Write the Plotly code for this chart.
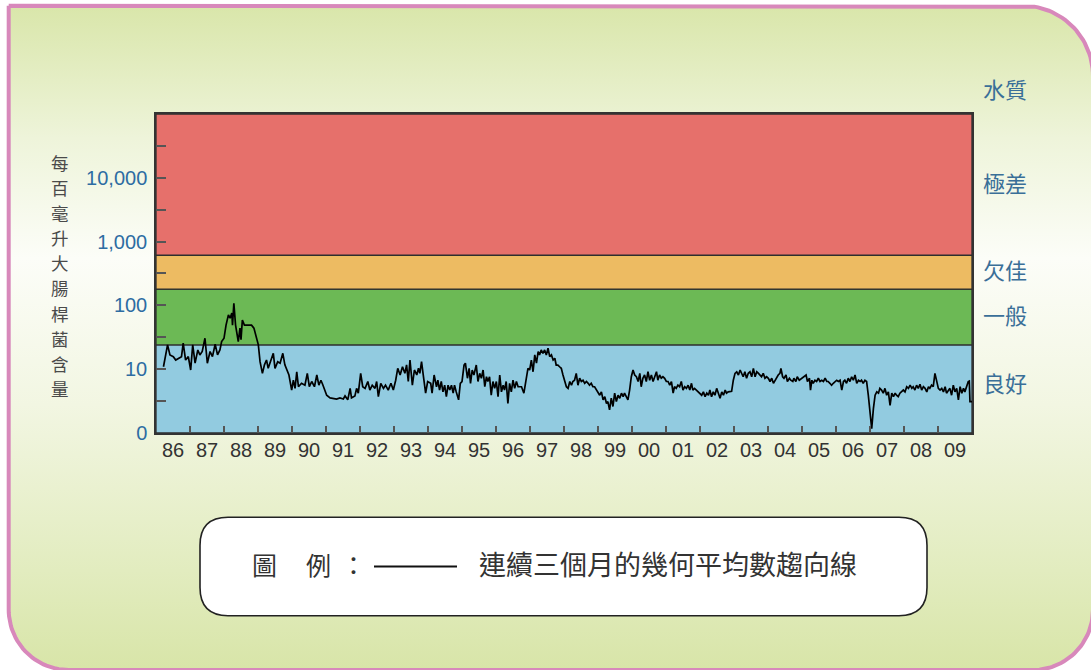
import numpy as np
import plotly.graph_objects as go

# ---------------- data ----------------
years_8693 = [
    1986.22, 1986.26, 1986.34, 1986.41, 1986.51, 1986.58, 1986.66, 1986.75, 1986.80, 1986.87,
    1986.95, 1987.02, 1987.08, 1987.15, 1987.23, 1987.29, 1987.36, 1987.44, 1987.51, 1987.59,
    1987.66, 1987.74, 1987.81, 1987.88, 1987.93, 1988.00, 1988.06, 1988.13, 1988.18, 1988.23,
    1988.25, 1988.29, 1988.34, 1988.42, 1988.47, 1988.50, 1988.54, 1988.60, 1988.72, 1988.81,
    1988.88, 1988.94, 1989.01, 1989.06, 1989.13, 1989.19, 1989.25, 1989.30, 1989.38, 1989.45,
    1989.50, 1989.58, 1989.65, 1989.73, 1989.79, 1989.84, 1989.91, 1989.99, 1990.04, 1990.09,
    1990.14, 1990.19, 1990.28, 1990.38, 1990.45, 1990.51, 1990.58, 1990.66, 1990.73, 1990.79,
    1990.85, 1990.90, 1990.97, 1991.02, 1991.12, 1991.22, 1991.31, 1991.41, 1991.51, 1991.56,
    1991.64, 1991.71, 1991.75, 1991.85, 1991.90, 1991.95, 1992.02, 1992.08, 1992.15, 1992.23,
    1992.29, 1992.36, 1992.44, 1992.49, 1992.54, 1992.61, 1992.69, 1992.75, 1992.83, 1992.91,
    1992.98, 1993.05, 1993.11, 1993.18, 1993.25, 1993.32, 1993.37, 1993.42, 1993.47, 1993.54,
    1993.60, 1993.67, 1993.72, 1993.76, 1993.81, 1993.86, 1993.93, 1993.99,
]
ecoli_8693 = [
    10.9, 14.8, 24, 16.7, 15.7, 13.9, 14.8, 15.7, 25.5, 13.9,
    15.7, 9.7, 24, 12.4, 20, 16.7, 18.9, 30.5, 12.4, 18.9,
    15.7, 24.6, 16.7, 20, 27, 30.5, 49, 71, 63, 76,
    49, 108, 49, 27, 44, 29, 59, 49, 49, 49,
    44, 32.5, 24, 13.1, 8.6, 11.7, 13.9, 10.3, 13.9, 17.7,
    10.3, 13.1, 12.4, 17.7, 11.7, 9.7, 8.1, 4.7, 6.7, 5.0,
    9.1, 5.3, 6.0, 5.6, 8.6, 5.3, 6.4, 5.3, 8.1, 5.6,
    6.7, 5.8, 4.5, 3.9, 3.55, 3.5, 3.4, 3.55, 3.4, 3.8,
    3.3, 5.0, 3.55, 3.8, 5.0, 4.2, 8.6, 5.3, 5.0, 6.4,
    4.7, 5.6, 5.0, 6.4, 3.7, 6.0, 5.0, 5.6, 4.7, 6.0,
    4.7, 6.7, 10.3, 8.1, 10.9, 8.6, 11.7, 6.4, 13.9, 5.6,
    9.7, 8.1, 10.3, 8.6, 13.1, 8.1, 4.2, 6.4,
]

years_9401 = [
    1994.08, 1994.12, 1994.18, 1994.25, 1994.29, 1994.34, 1994.39, 1994.44, 1994.49, 1994.54,
    1994.59, 1994.64, 1994.69, 1994.74, 1994.78, 1994.83, 1994.90, 1994.95, 1995.00, 1995.06,
    1995.10, 1995.16, 1995.21, 1995.25, 1995.30, 1995.35, 1995.42, 1995.47, 1995.52, 1995.57,
    1995.62, 1995.67, 1995.72, 1995.76, 1995.81, 1995.86, 1995.91, 1995.96, 1996.01, 1996.06,
    1996.11, 1996.16, 1996.21, 1996.25, 1996.30, 1996.35, 1996.40, 1996.45, 1996.50, 1996.55,
    1996.60, 1996.65, 1996.75, 1996.82, 1996.89, 1996.94, 1996.99, 1997.04, 1997.09, 1997.14,
    1997.19, 1997.24, 1997.28, 1997.33, 1997.38, 1997.43, 1997.48, 1997.53, 1997.58, 1997.63,
    1997.68, 1997.73, 1997.77, 1997.82, 1997.87, 1997.92, 1997.97, 1998.02, 1998.07, 1998.12,
    1998.17, 1998.22, 1998.26, 1998.31, 1998.36, 1998.41, 1998.46, 1998.51, 1998.56, 1998.61,
    1998.66, 1998.71, 1998.75, 1998.80, 1998.85, 1998.90, 1998.95, 1999.00, 1999.05, 1999.10,
    1999.15, 1999.20, 1999.25, 1999.29, 1999.34, 1999.39, 1999.44, 1999.49, 1999.54, 1999.59,
    1999.64, 1999.69, 1999.74, 1999.78, 1999.83, 1999.88, 1999.93, 1999.98, 2000.03, 2000.08,
    2000.13, 2000.18, 2000.23, 2000.27, 2000.32, 2000.37, 2000.42, 2000.47, 2000.52, 2000.57,
    2000.62, 2000.67, 2000.72, 2000.76, 2000.81, 2000.86, 2000.91, 2000.96, 2001.01, 2001.06,
    2001.11, 2001.16, 2001.21, 2001.25, 2001.30, 2001.35, 2001.40, 2001.45, 2001.50, 2001.55,
    2001.60, 2001.65, 2001.70, 2001.75, 2001.79, 2001.84, 2001.89, 2001.94, 2001.99,
]
ecoli_9401 = [
    6.0, 4.2, 8.1, 5.3, 6.7, 4.7, 6.4, 4.4, 5.6, 3.7,
    5.6, 4.7, 5.6, 4.2, 5.6, 4.4, 3.3, 6.0, 6.4, 11.6,
    12.4, 7.2, 10.3, 6.0, 9.7, 8.1, 11.6, 6.4, 8.6, 7.2,
    9.7, 5.3, 7.6, 6.4, 7.6, 3.9, 6.4, 5.0, 6.4, 3.7,
    8.1, 4.4, 5.6, 4.7, 6.4, 2.9, 6.0, 4.4, 6.7, 5.0,
    6.4, 5.3, 5.3, 4.2, 6.7, 10.3, 9.7, 13.9, 9.1, 16.7,
    12.4, 18.9, 16.7, 20, 17.7, 20, 16.7, 21.3, 15.7, 16.7,
    13.9, 14.8, 11.6, 11.6, 10.9, 10.3, 8.1, 6.4, 5.3, 5.0,
    6.4, 5.6, 6.4, 6.7, 8.6, 5.6, 7.2, 6.4, 6.7, 6.0,
    6.4, 6.0, 5.6, 6.0, 5.3, 5.3, 4.7, 4.2, 3.9, 4.4,
    3.3, 3.7, 2.9, 3.1, 2.3, 3.5, 2.6, 4.2, 3.1, 3.9,
    3.5, 4.2, 3.7, 4.2, 3.7, 3.3, 4.7, 7.6, 9.7, 8.1,
    7.6, 6.4, 8.6, 5.3, 7.2, 8.1, 6.4, 9.1, 6.7, 8.1,
    6.4, 7.6, 9.1, 6.7, 8.1, 7.2, 7.6, 7.2, 6.4, 6.4,
    5.6, 6.4, 4.2, 5.3, 5.0, 5.6, 5.3, 6.4, 4.7, 5.3,
    5.0, 5.6, 4.7, 6.0, 4.7, 5.0, 4.7, 4.4, 4.2,
]

years_0209 = [
    2002.05, 2002.10, 2002.15, 2002.20, 2002.25, 2002.29, 2002.34, 2002.39, 2002.44, 2002.49,
    2002.54, 2002.59, 2002.64, 2002.69, 2002.74, 2002.78, 2002.83, 2002.88, 2002.93, 2002.98,
    2003.03, 2003.08, 2003.13, 2003.18, 2003.23, 2003.27, 2003.32, 2003.37, 2003.42, 2003.47,
    2003.52, 2003.57, 2003.62, 2003.67, 2003.72, 2003.76, 2003.81, 2003.86, 2003.91, 2003.96,
    2004.01, 2004.06, 2004.11, 2004.16, 2004.21, 2004.25, 2004.30, 2004.35, 2004.38, 2004.43,
    2004.47, 2004.53, 2004.57, 2004.63, 2004.67, 2004.73, 2004.76, 2004.82, 2004.86, 2004.92,
    2004.99, 2005.06, 2005.12, 2005.16, 2005.22, 2005.25, 2005.29, 2005.33, 2005.38, 2005.43,
    2005.48, 2005.53, 2005.58, 2005.63, 2005.68, 2005.73, 2005.77, 2005.82, 2005.87, 2005.92,
    2005.97, 2006.02, 2006.07, 2006.12, 2006.17, 2006.22, 2006.26, 2006.31, 2006.36, 2006.41,
    2006.46, 2006.51, 2006.56, 2006.61, 2006.66, 2006.71, 2006.75, 2006.80, 2006.85, 2006.90,
    2006.95, 2007.00, 2007.05, 2007.10, 2007.15, 2007.20, 2007.25, 2007.29, 2007.34, 2007.39,
    2007.44, 2007.49, 2007.54, 2007.59, 2007.64, 2007.69, 2007.74, 2007.78, 2007.83, 2007.88,
    2007.93, 2007.98, 2008.03, 2008.08, 2008.13, 2008.18, 2008.23, 2008.27, 2008.32, 2008.37,
    2008.42, 2008.47, 2008.52, 2008.57, 2008.62, 2008.67, 2008.72, 2008.76, 2008.81, 2008.86,
    2008.91, 2008.96, 2009.01, 2009.06, 2009.11, 2009.16, 2009.21, 2009.25, 2009.30, 2009.35,
    2009.40, 2009.45, 2009.50, 2009.55, 2009.60, 2009.65, 2009.70, 2009.75, 2009.79, 2009.84,
    2009.89, 2009.92, 2009.94, 2010.00,
]
ecoli_0209 = [
    3.9, 4.4, 3.7, 4.2, 3.9, 4.7, 3.7, 4.4, 3.9, 5.0,
    4.2, 3.5, 4.4, 3.9, 4.7, 4.2, 4.4, 4.4, 4.5, 6.7,
    8.6, 9.1, 8.1, 9.7, 8.1, 7.6, 9.1, 7.2, 8.6, 9.1,
    7.6, 10.3, 7.6, 9.1, 8.6, 8.1, 7.6, 8.6, 7.2, 7.6,
    7.2, 6.4, 7.2, 6.0, 6.7, 7.6, 8.1, 8.6, 10.3, 7.6,
    7.2, 8.1, 6.4, 7.2, 6.7, 6.4, 7.2, 6.4, 7.6, 6.7,
    7.2, 7.6, 8.1, 6.4, 7.2, 4.7, 6.7, 6.0, 6.7, 6.4,
    7.2, 6.4, 6.7, 6.4, 7.2, 6.4, 6.4, 6.0, 5.6, 6.0,
    6.4, 6.7, 6.4, 6.7, 4.7, 6.4, 6.7, 6.0, 7.2, 6.4,
    7.6, 6.7, 8.1, 6.0, 6.7, 6.4, 6.7, 6.0, 6.7, 6.4,
    3.9, 2.1, 1.17, 2.4, 3.9, 4.4, 4.2, 5.0, 4.7, 4.2,
    5.0, 3.9, 4.4, 2.7, 4.2, 3.7, 4.2, 3.9, 3.7, 4.2,
    4.4, 4.7, 4.4, 5.3, 5.0, 5.6, 5.0, 5.3, 4.7, 5.6,
    5.0, 5.8, 4.7, 5.3, 5.0, 4.4, 5.3, 5.0, 5.6, 5.3,
    8.6, 6.4, 5.0, 4.7, 5.0, 4.4, 5.3, 4.2, 4.7, 5.0,
    3.9, 5.6, 4.4, 5.0, 3.3, 5.3, 4.2, 5.0, 4.4, 5.6,
    6.4, 6.5, 3.1, 3.1,
]

band_edges = [1, 24, 180, 610, 100000]          # E. coli per 100 mL
band_labels = ["良好", "一般", "欠佳", "極差"]
band_colors = ["#92cbe0", "#6cb955", "#edbb62", "#e6706b"]
quality_header = "水質"

ytick_values = [1, 10, 100, 1000, 10000]
ytick_labels = ["0", "10", "100", "1,000", "10,000"]
yminor_values = [10 ** 0.5, 10 ** 1.5, 10 ** 2.5, 10 ** 3.5, 10 ** 4.5]

year_start, year_end = 1986, 2010
year_labels = ["86", "87", "88", "89", "90", "91", "92", "93", "94", "95", "96", "97",
               "98", "99", "00", "01", "02", "03", "04", "05", "06", "07", "08", "09"]

y_title_chars = ["每", "百", "毫", "升", "大", "腸", "桿", "菌", "含", "量"]
legend_prefix = ["圖", "例", "："]
legend_text = "連續三個月的幾何平均數趨向線"

# ---------------- figure ----------------
W = 1091          # page width
DH = 670          # design height (reference pixel space)
H = 684           # canvas height (fills the captured page)
CJK = "Noto Sans CJK TC"
LAT = "Liberation Sans, Arial, sans-serif"

years = years_8693 + years_9401 + years_0209
ecoli = ecoli_8693 + ecoli_9401 + ecoli_0209

fig = go.Figure()

# --- page background: rounded panel with gradient + pink border (pixel axes x/y)
L, T, R, B = 8.7, 5.7, 1093.0, 667.0
r_tr, r_bl, r_br = 70.0, 60.0, 60.0


def arc(cx, cy, r, a0, a1, n=30):
    t = np.radians(np.linspace(a0, a1, n))
    return list(cx + r * np.cos(t)), list(cy + r * np.sin(t))


bx, by = [L], [T]
ax_, ay_ = arc(R - r_tr, T + r_tr, r_tr, -90, 0)
bx += ax_; by += ay_
ax_, ay_ = arc(R - r_br, B - r_br, r_br, 0, 90)
bx += ax_; by += ay_
ax_, ay_ = arc(L + r_bl, B - r_bl, r_bl, 90, 180)
bx += ax_; by += ay_
bx.append(L); by.append(T)

fig.add_trace(go.Scatter(
    x=bx, y=by, mode="lines", fill="toself",
    fillgradient=dict(type="vertical", colorscale=[
        [0.0, "#d8e5a8"], [0.15, "#e2ecbf"], [0.4, "#f2f6e2"],
        [0.62, "#fcfdf8"], [0.8, "#eef4da"], [1.0, "#d9e6aa"]]),
    line=dict(color="#d888bb", width=4),
    hoverinfo="skip", xaxis="x", yaxis="y", showlegend=False))

# --- quality bands (main chart axes x2/y2, log10 scale)
for lo, hi, col in zip(band_edges[:-1], band_edges[1:], band_colors):
    llo, lhi = np.log10(lo), np.log10(hi)
    fig.add_trace(go.Scatter(
        x=[year_start, year_end, year_end, year_start, year_start],
        y=[llo, llo, lhi, lhi, llo],
        mode="lines", fill="toself", fillcolor=col,
        line=dict(color="#2e2e2e", width=1.3),
        hoverinfo="skip", xaxis="x2", yaxis="y2", showlegend=False))

# --- trend line
fig.add_trace(go.Scatter(
    x=years, y=np.log10(ecoli), mode="lines",
    line=dict(color="#000000", width=1.7),
    xaxis="x2", yaxis="y2", showlegend=False, name="E. coli"))

x_dom = [156 / W, 972 / W]
y_dom = [1 - 431 / DH, 1 - 113.5 / DH]

fig.update_layout(
    width=W, height=H, autosize=False,
    margin=dict(l=0, r=0, t=0, b=0),
    paper_bgcolor="white", plot_bgcolor="rgba(0,0,0,0)",
    showlegend=False,
    xaxis=dict(domain=[0, 1], range=[0, W], visible=False, fixedrange=True),
    yaxis=dict(domain=[0, 1], range=[DH, 0], visible=False, fixedrange=True),
    xaxis2=dict(
        domain=x_dom, anchor="y2", range=[year_start, year_end],
        tickmode="array",
        tickvals=[year_start + i + 0.5 for i in range(len(year_labels))],
        ticktext=year_labels,
        ticks="inside", ticklen=0,
        tickfont=dict(family=LAT, size=20, color="#333333"),
        ticklabelstandoff=-2,
        minor=dict(tickmode="array",
                   tickvals=list(range(year_start + 1, year_end)),
                   ticks="inside", ticklen=7, tickwidth=1.5, tickcolor="#555555"),
        showgrid=False, zeroline=False,
        showline=True, mirror=True, linecolor="#333333", linewidth=2),
    yaxis2=dict(
        domain=y_dom, anchor="x2", range=[0, 5],
        tickmode="array", tickvals=list(np.log10(ytick_values)), ticktext=ytick_labels,
        ticks="inside", ticklen=10, tickwidth=1.5, tickcolor="#555555",
        tickfont=dict(family=LAT, size=20, color="#2d6ca2"),
        ticklabelstandoff=3,
        minor=dict(tickmode="array", tickvals=list(np.log10(yminor_values)),
                   ticks="inside", ticklen=10, tickwidth=1.5, tickcolor="#555555"),
        showgrid=False, zeroline=False,
        showline=True, mirror=True, linecolor="#333333", linewidth=1.5),
)

annotations = []
# vertical y-axis title: one character per slot, stacked
for i, ch in enumerate(y_title_chars):
    annotations.append(dict(
        x=60, y=161.7 + 25 * i, xref="x", yref="y", text=ch, showarrow=False,
        font=dict(family=CJK, size=17.5, color="#4a4a4a"),
        xanchor="center", yanchor="middle"))

# right-hand quality labels at band midpoints
label_shift = [7, 3, 3, 3]
for lo, hi, lab, ys in zip(band_edges[:-1], band_edges[1:], band_labels, label_shift):
    mid = (np.log10(lo) + np.log10(hi)) / 2
    annotations.append(dict(
        x=981, y=mid, xref="x", yref="y2", text=lab, showarrow=False, yshift=ys,
        font=dict(family=CJK, size=22, color="#3a6f98"),
        xanchor="left", yanchor="middle"))
annotations.append(dict(
    x=981, y=90, xref="x", yref="y", text=quality_header, showarrow=False, yshift=2,
    font=dict(family=CJK, size=22, color="#3a6f98"),
    xanchor="left", yanchor="middle"))

# legend box texts
for xpos, ch in zip([264, 318, 353], legend_prefix):
    annotations.append(dict(
        x=xpos, y=561, xref="x", yref="y", text=ch, showarrow=False,
        font=dict(family=CJK, size=25, color="#333333"),
        xanchor="center", yanchor="middle"))
annotations.append(dict(
    x=477, y=561, xref="x", yref="y", text=legend_text, showarrow=False,
    font=dict(family=CJK, size=27, color="#333333"),
    xanchor="left", yanchor="middle"))

fig.update_layout(annotations=annotations)

# legend box (rounded) and sample line
x0, x1, y0, y1, rr = 200, 927, 515, 613, 28
box_path = (f"M {x0 + rr},{y0} L {x1 - rr},{y0} Q {x1},{y0} {x1},{y0 + rr} "
            f"L {x1},{y1 - rr} Q {x1},{y1} {x1 - rr},{y1} L {x0 + rr},{y1} "
            f"Q {x0},{y1} {x0},{y1 - rr} L {x0},{y0 + rr} Q {x0},{y0} {x0 + rr},{y0} Z")
fig.add_shape(type="path", path=box_path, xref="x", yref="y",
              fillcolor="white", line=dict(color="#222222", width=1.6), layer="above")
fig.add_shape(type="line", x0=374, x1=457, y0=564, y1=564, xref="x", yref="y",
              line=dict(color="#111111", width=2), layer="above")

page_css = (
    "document.documentElement.style.margin='0';"
    "document.body.style.margin='0';"
)
fig.write_html("out.html", config={"displayModeBar": False},
               post_script=page_css)
